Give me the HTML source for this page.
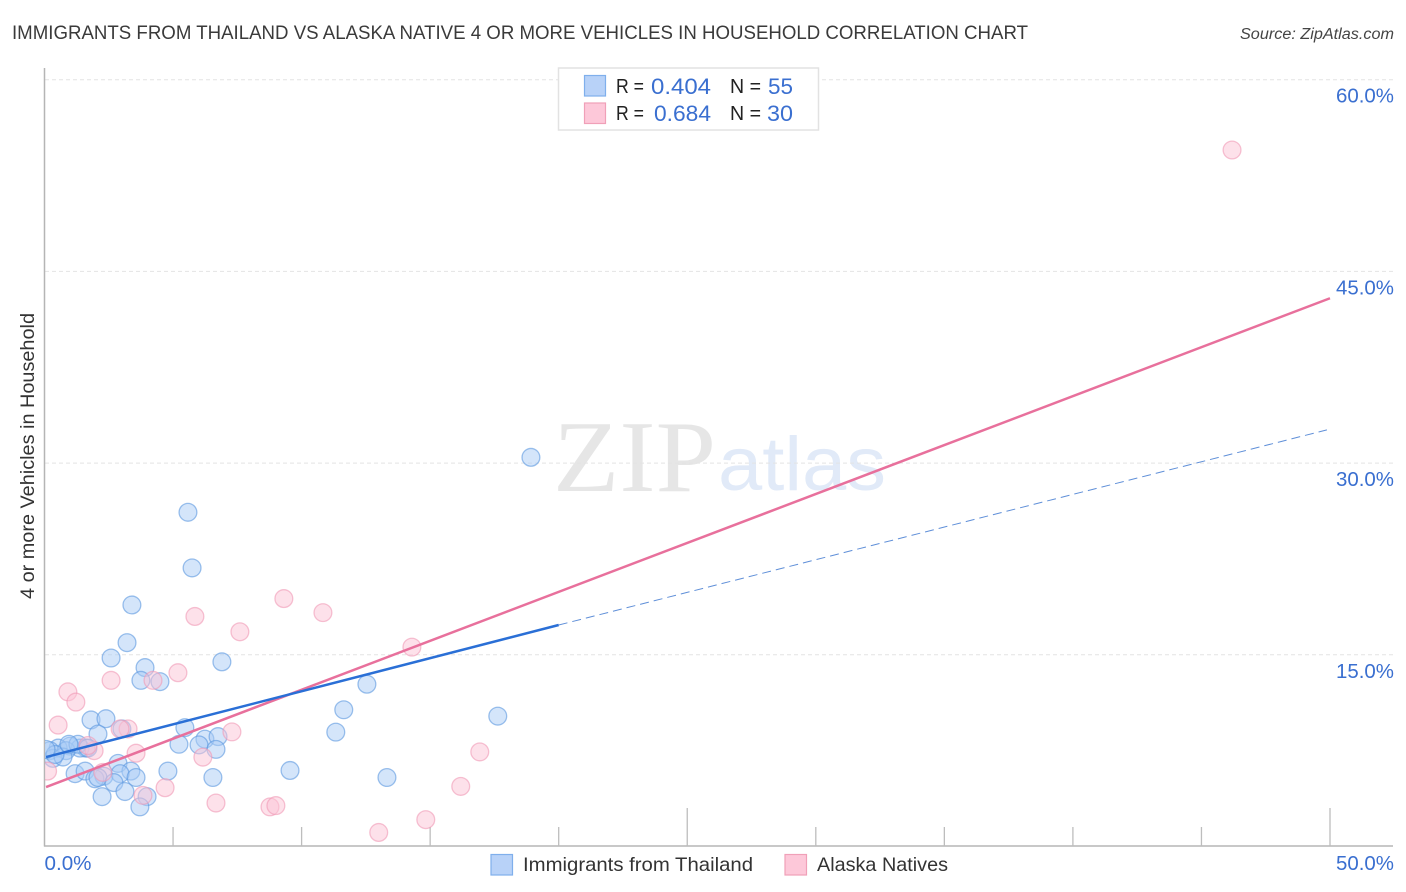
<!DOCTYPE html>
<html lang="en">
<head>
<meta charset="utf-8">
<title>Immigrants from Thailand vs Alaska Native 4 or more Vehicles in Household Correlation Chart</title>
<style>
html,body{margin:0;padding:0;background:#fff;width:1406px;height:892px;overflow:hidden}
svg{display:block;font-family:"Liberation Sans",sans-serif}
</style>
</head>
<body>
<svg id="chart" width="1406" height="892" viewBox="0 0 1406 892" xmlns="http://www.w3.org/2000/svg">
  <defs><clipPath id="plot-clip"><rect x="45" y="60" width="1350" height="786"/></clipPath></defs>
  <text x="12" y="39" font-size="19.5" fill="#3a3a3a" textLength="1016" lengthAdjust="spacingAndGlyphs">IMMIGRANTS FROM THAILAND VS ALASKA NATIVE 4 OR MORE VEHICLES IN HOUSEHOLD CORRELATION CHART</text>
  <text x="1394" y="39" font-size="15.5" font-style="italic" fill="#444" text-anchor="end" textLength="154" lengthAdjust="spacingAndGlyphs">Source: ZipAtlas.com</text>

  <g id="watermark">
    <text x="553" y="491" font-family="'Liberation Serif',serif" font-size="102" fill="#e6e6e6" textLength="163" lengthAdjust="spacingAndGlyphs">ZIP</text>
    <text x="718" y="490" font-size="76" fill="#e1eaf8" textLength="168" lengthAdjust="spacingAndGlyphs">atlas</text>
  </g>

  <g id="grid"></g>
  <g id="axes"></g>
  <g id="points-blue" clip-path="url(#plot-clip)"></g>
  <g id="points-pink" clip-path="url(#plot-clip)"></g>
  <g id="trends"></g>
  <g id="tick-labels"></g>

  <text transform="translate(34,456) rotate(-90)" font-size="19.5" fill="#333" text-anchor="middle" textLength="286" lengthAdjust="spacingAndGlyphs">4 or more Vehicles in Household</text>

  <g>
    <rect x="558.5" y="68" width="260" height="62" fill="#fff" stroke="#e2e2e2" stroke-width="1.5"/>
    <rect x="584.5" y="75.5" width="21" height="20.5" fill="#b8d2f8" stroke="#7fafec" stroke-width="1.2"/>
    <rect x="584.5" y="103" width="21" height="20.5" fill="#fdc8d9" stroke="#f0a0b8" stroke-width="1.2"/>
    <text x="616" y="93" font-size="20.5" fill="#222" textLength="28" lengthAdjust="spacingAndGlyphs">R =</text>
    <text x="711" y="94" font-size="22" fill="#3a6fd0" text-anchor="end" textLength="60" lengthAdjust="spacingAndGlyphs">0.404</text>
    <text x="730" y="93" font-size="20.5" fill="#222" textLength="31" lengthAdjust="spacingAndGlyphs">N =</text>
    <text x="793" y="94" font-size="22" fill="#3a6fd0" text-anchor="end" textLength="25" lengthAdjust="spacingAndGlyphs">55</text>
    <text x="616" y="120" font-size="20.5" fill="#222" textLength="28" lengthAdjust="spacingAndGlyphs">R =</text>
    <text x="711" y="121" font-size="22" fill="#3a6fd0" text-anchor="end" textLength="57" lengthAdjust="spacingAndGlyphs">0.684</text>
    <text x="730" y="120" font-size="20.5" fill="#222" textLength="31" lengthAdjust="spacingAndGlyphs">N =</text>
    <text x="793" y="121" font-size="22" fill="#3a6fd0" text-anchor="end" textLength="26" lengthAdjust="spacingAndGlyphs">30</text>
  </g>

  <g>
    <rect x="491" y="854.5" width="21.5" height="20.5" fill="#b8d2f8" stroke="#7fafec" stroke-width="1.2"/>
    <text x="523" y="871" font-size="19.5" fill="#333" textLength="230" lengthAdjust="spacingAndGlyphs">Immigrants from Thailand</text>
    <rect x="785" y="854.5" width="21.5" height="20.5" fill="#fdc8d9" stroke="#f0a0b8" stroke-width="1.2"/>
    <text x="817" y="871" font-size="19.5" fill="#333" textLength="131" lengthAdjust="spacingAndGlyphs">Alaska Natives</text>
  </g>
</svg>
<script>
// Chart data: x = share of Thailand immigrants / natives (%), y = 4+ vehicles (%)
const blueX = [18.92,5.58,5.74,3.40,3.21,2.59,3.91,6.90,3.75,4.49,12.54,11.64,17.63,1.81,2.39,3.01,5.46,11.33,2.08,5.23,6.24,6.01,6.75,6.67,1.61,0.99,1.38,0.53,0.21,0.84,0.33,0.72,0.41,1.30,0.95,2.86,3.36,9.55,4.80,13.32,6.55,1.19,1.58,2.31,1.96,2.08,2.94,2.70,3.56,3.13,2.24,3.99,3.71,0.06,1.69];
const blueY = [30.45,26.15,21.8,18.9,15.95,14.75,14.0,14.45,13.0,12.9,12.7,10.7,10.2,9.9,10.0,9.2,9.3,8.95,8.8,8.0,8.4,7.95,8.6,7.6,7.7,7.85,7.7,7.7,7.5,7.5,6.9,7.0,7.2,8.0,8.0,6.5,5.9,5.95,5.9,5.4,5.4,5.7,5.9,5.5,5.3,5.4,5.7,5.0,5.4,4.3,3.9,3.9,3.1,7.6,7.7];
const pinkX = [46.19,9.31,10.83,5.85,7.60,14.29,5.19,2.59,4.22,0.91,1.22,0.53,3.25,2.94,7.29,1.93,3.56,1.69,16.93,6.16,2.27,0.12,16.19,4.69,3.83,6.67,8.77,9.00,14.83,13.0];
const pinkY = [54.5,19.4,18.3,18.0,16.8,15.6,13.6,13.0,13.0,12.1,11.3,9.5,9.2,9.2,8.97,7.5,7.3,7.9,7.4,6.99,5.8,5.9,4.7,4.6,4.0,3.4,3.1,3.2,2.1,1.1];
const blueTrendX = [0.06,20.0];
const blueTrendY = [7.0,17.33];
const blueDashX = [20.0,49.88];
const blueDashY = [17.33,32.6];
const pinkTrendX = [0.06,50.0];
const pinkTrendY = [4.65,42.9];
const xTicks = [5,10,15,20,25,30,35,40,45,50];
const xMajorTicks = [25,50];
const yGridValues = [15,30,45,60];
const yTickLabels = ["15.0%","30.0%","45.0%","60.0%"];
const xTickValues = [0,50];
const xTickLabels = ["0.0%","50.0%"];

const NS = "http://www.w3.org/2000/svg";
function xScale(v){ return 44.5 + v * 25.71; }
function yScale(v){ return 846.5 - v * 12.78; }
function make(tag, attrs, parent){
  const el = document.createElementNS(NS, tag);
  for (const k in attrs) el.setAttribute(k, attrs[k]);
  parent.appendChild(el);
  return el;
}

const gridG = document.getElementById("grid");
yGridValues.forEach(function(v){
  const el = make("line", {x1:45, x2:1393, y1:yScale(v), y2:yScale(v), stroke:"#e4e4e4", "stroke-width":1, "stroke-dasharray":"4 3"}, gridG);
  
  
});

const axesG = document.getElementById("axes");
const yAxis = make("line", {x1:44.5, x2:44.5, y1:68, y2:846.5, stroke:"#b5b5b5", "stroke-width":1.5}, axesG);


const xAxis = make("line", {x1:44, x2:1393, y1:846, y2:846, stroke:"#b5b5b5", "stroke-width":1.5}, axesG);


xTicks.forEach(function(v){
  const top = xMajorTicks.indexOf(v) >= 0 ? 808 : 827;
  const el = make("line", {x1:xScale(v), x2:xScale(v), y1:top, y2:846, stroke:"#bdbdbd", "stroke-width":1.3}, axesG);
  
  
});

function drawPoints(xs, ys, groupId, fill, stroke, name){
  const g = document.getElementById(groupId);
  xs.forEach(function(x, i){
    const c = make("circle", {cx:xScale(x), cy:yScale(ys[i]), r:8.9, fill:fill, "fill-opacity":0.5, stroke:stroke, "stroke-opacity":0.6, "stroke-width":1.3}, g);
    
    
  });
}
drawPoints(blueX, blueY, "points-blue", "#a9cbf5", "#5b97e0", "thailand-point");
drawPoints(pinkX, pinkY, "points-pink", "#fbc4d6", "#f09ab6", "alaska-point");

const trendG = document.getElementById("trends");
const pinkLine = make("line", {x1:xScale(pinkTrendX[0]), y1:yScale(pinkTrendY[0]), x2:xScale(pinkTrendX[1]), y2:yScale(pinkTrendY[1]), stroke:"#e8709c", "stroke-width":2.5}, trendG);


const blueLine = make("line", {x1:xScale(blueTrendX[0]), y1:yScale(blueTrendY[0]), x2:xScale(blueTrendX[1]), y2:yScale(blueTrendY[1]), stroke:"#2a6fd6", "stroke-width":2.5}, trendG);


const blueDash = make("line", {x1:xScale(blueDashX[0]), y1:yScale(blueDashY[0]), x2:xScale(blueDashX[1]), y2:yScale(blueDashY[1]), stroke:"#5f8fd8", "stroke-width":1, "stroke-dasharray":"9 5"}, trendG);



const labelG = document.getElementById("tick-labels");
yGridValues.forEach(function(v, i){
  const t = make("text", {x:1394, y:yScale(v) + 23, "font-size":20, fill:"#3a6fd0", "text-anchor":"end", textLength:58, lengthAdjust:"spacingAndGlyphs"}, labelG);
  t.textContent = yTickLabels[i];
  
  
});
xTickValues.forEach(function(v, i){
  const t = make("text", {x: v === 0 ? xScale(v) : 1394, y:870, "font-size":20, fill:"#3a6fd0", "text-anchor": v === 0 ? "start" : "end", textLength: v === 0 ? 47 : 58, lengthAdjust:"spacingAndGlyphs"}, labelG);
  t.textContent = xTickLabels[i];
  
  
});
</script>
</body>
</html>
